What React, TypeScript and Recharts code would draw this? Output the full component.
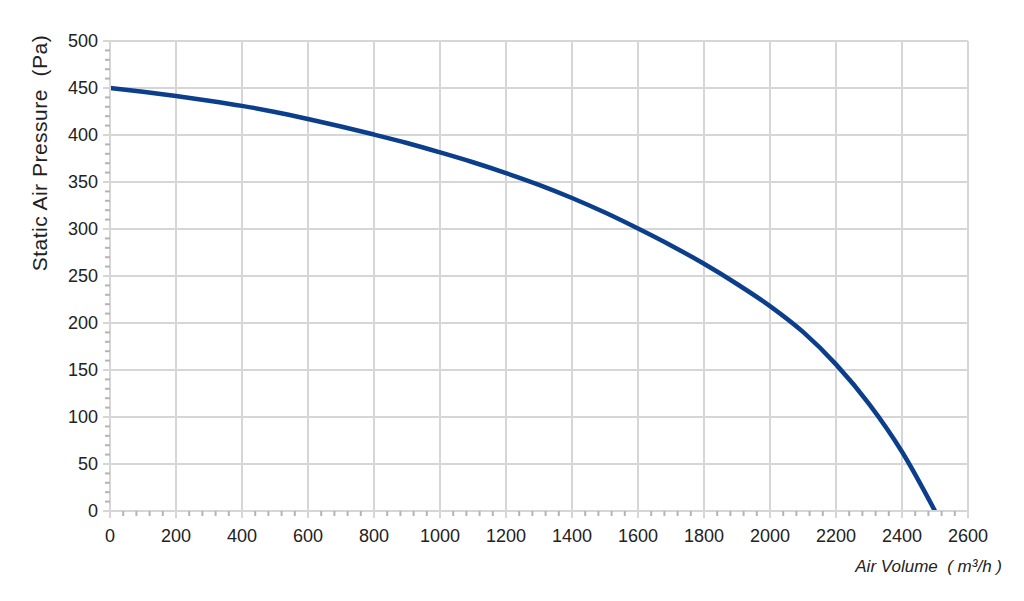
import { LineChart, Line, XAxis, YAxis, CartesianGrid, Label } from "recharts";

// air volume (m³/h) and static pressure (Pa)
const airVolume = [0, 100, 200, 300, 400, 500, 600, 700, 800, 900, 1000, 1100, 1200, 1300, 1400, 1500, 1600, 1700, 1800, 1900, 2000, 2100, 2200, 2300, 2400, 2500];
const pressure = [450, 446, 441.5, 436.5, 431, 424.5, 417, 409, 400.5, 391.5, 381.5, 371, 359.5, 347, 333, 317.5, 300.5, 282.5, 263, 241.5, 218, 190.5, 156, 114, 63, 0];

const xMajorTicks = [0, 200, 400, 600, 800, 1000, 1200, 1400, 1600, 1800, 2000, 2200, 2400, 2600];
const yMajorTicks = [0, 50, 100, 150, 200, 250, 300, 350, 400, 450, 500];
// minor ticks: 5 per major step
const xMinorTicks = xMajorTicks.slice(0, -1).flatMap((t) => [0, 40, 80, 120, 160].map((d) => t + d)).concat([2600]);
const yMinorTicks = yMajorTicks.slice(0, -1).flatMap((t) => [0, 10, 20, 30, 40].map((d) => t + d)).concat([500]);

const data = airVolume.map((v, i) => ({ volume: v, pressure: pressure[i] }));

const FONT = '"Liberation Sans", Arial, sans-serif';
const TEXT = "#222";
const GRID = "#d6d6d6";
const TICK = "#b4b4b4";

const W = 1008;
const H = 585;
const M = { top: 33, right: 48, left: 0, bottom: 42 };
const Y_AXIS_W = 102;
const X_AXIS_H = 40;
const PLOT_LEFT = M.left + Y_AXIS_W;
const PLOT_BOTTOM = H - M.bottom - X_AXIS_H;

const XTick = (props: any) => {
  const v = props.payload.value;
  const x = props.payload.coordinate;
  const major = v % 200 === 0;
  return (
    <g>
      <line x1={x} x2={x} y1={PLOT_BOTTOM} y2={PLOT_BOTTOM + (major ? 7 : 5)} stroke={major ? GRID : TICK} strokeWidth={2} />
      {major && (
        <text x={x} y={PLOT_BOTTOM + 31} textAnchor="middle" fontSize={18} fontFamily={FONT} fill={TEXT}>
          {v}
        </text>
      )}
    </g>
  );
};

const YTick = (props: any) => {
  const v = props.payload.value;
  const y = props.payload.coordinate;
  const major = v % 50 === 0;
  return (
    <g>
      <line x1={PLOT_LEFT} x2={PLOT_LEFT - (major ? 7 : 5)} y1={y} y2={y} stroke={major ? GRID : TICK} strokeWidth={2} />
      {major && (
        <text x={PLOT_LEFT - 12} y={y} dy="0.36em" textAnchor="end" fontSize={18} fontFamily={FONT} fill={TEXT}>
          {v}
        </text>
      )}
    </g>
  );
};

export default function App() {
  return (
    <LineChart width={W} height={H} data={data} margin={M}>
      <CartesianGrid
        stroke={GRID}
        strokeWidth={2}
        verticalValues={xMajorTicks}
        horizontalValues={yMajorTicks}
      />
      <XAxis
        dataKey="volume"
        type="number"
        domain={[0, 2600]}
        ticks={xMinorTicks}
        interval={0}
        height={X_AXIS_H}
        tickLine={false}
        tick={<XTick />}
        axisLine={{ stroke: GRID, strokeWidth: 2 }}
      >
        <Label
          content={() => (
            <text x={994} y={564} textAnchor="end" fontSize={17} fontStyle="italic" fontFamily={FONT} fill={TEXT} style={{ whiteSpace: "pre" }}>
              {"Air Volume  ( m³/h )"}
            </text>
          )}
        />
      </XAxis>
      <YAxis
        type="number"
        domain={[0, 500]}
        ticks={yMinorTicks}
        interval={0}
        width={Y_AXIS_W}
        tickLine={false}
        tick={<YTick />}
        axisLine={{ stroke: GRID, strokeWidth: 2 }}
      >
        <Label
          content={() => (
            <text x={0} y={0} transform="translate(38.5,145) rotate(-90)" textAnchor="middle" fontSize={21} letterSpacing={0.5} fontFamily={FONT} fill={TEXT} style={{ whiteSpace: "pre" }}>
              {"Static Air Pressure  (Pa)"}
            </text>
          )}
        />
      </YAxis>
      <Line
        type="monotone"
        dataKey="pressure"
        stroke="#0b3f8c"
        strokeWidth={4.5}
        dot={false}
        isAnimationActive={false}
      />
    </LineChart>
  );
}
